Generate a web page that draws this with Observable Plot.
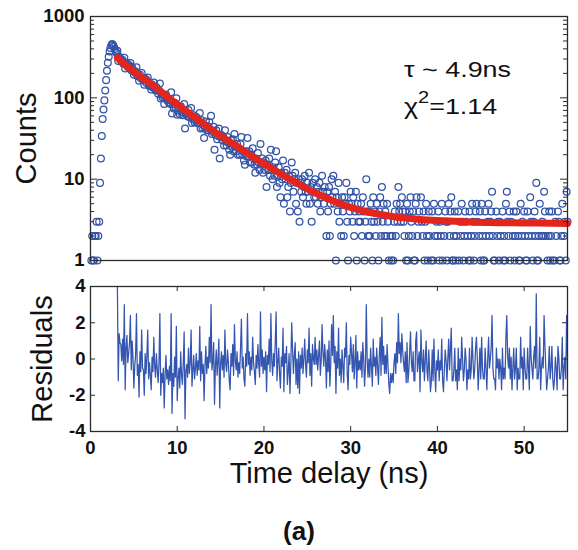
<!DOCTYPE html>
<html>
<head>
<meta charset="utf-8">
<script src="https://cdn.jsdelivr.net/npm/d3@7"></script>
<script src="https://cdn.jsdelivr.net/npm/@observablehq/plot@0.6"></script>
<style>
  body { margin: 0; background: #fff; }
  #wrap { position: relative; width: 578px; height: 550px; overflow: hidden; }
  #wrap svg { position: absolute; left: 0; overflow: visible; }
</style>
</head>
<body>
<div id="wrap"></div>
<script>
// ---- data ----
const channelWidth = 0.1; // ns per TCSPC channel, first channel at 0.1 ns
const counts = [
  1, 2, 1, 1, 2, 2, 3, 1, 2, 3,
  9, 18, 34, 55, 72, 93, 123, 165, 215, 270,
  320, 372, 410, 440, 458, 446, 425, 398, 372, 355,
  380, 283, 322, 307, 300, 278, 292, 263, 311, 229,
  260, 267, 240, 244, 249, 268, 218, 238, 220, 192,
  205, 210, 238, 186, 191, 162, 192, 174, 202, 169,
  165, 145, 171, 154, 164, 178, 142, 150, 139, 127,
  146, 134, 154, 132, 123, 135, 123, 112, 123, 150,
  98, 109, 102, 109, 84, 100, 110, 94, 98, 88,
  94, 84, 117, 64, 83, 74, 87, 76, 99, 62,
  70, 75, 63, 79, 67, 61, 70, 84, 42, 63,
  66, 59, 71, 58, 61, 75, 49, 55, 61, 50,
  53, 58, 49, 53, 49, 65, 42, 53, 43, 46,
  32, 43, 51, 40, 45, 40, 50, 41, 60, 36,
  38, 44, 23, 35, 40, 31, 34, 42, 18, 33,
  35, 30, 33, 26, 40, 29, 26, 33, 28, 23,
  20, 30, 25, 31, 22, 36, 25, 22, 27, 20,
  24, 20, 27, 33, 20, 22, 17, 15, 22, 19,
  32, 19, 22, 16, 20, 16, 24, 18, 15, 12,
  18, 15, 21, 16, 13, 27, 15, 18, 12, 16,
  13, 17, 8, 15, 13, 18, 11, 23, 13, 10,
  14, 11, 16, 22, 8, 11, 14, 9, 6, 12,
  10, 17, 5, 12, 10, 13, 6, 8, 11, 4,
  9, 16, 11, 7, 10, 12, 5, 9, 4, 10,
  3, 9, 7, 10, 6, 8, 11, 7, 5, 9,
  7, 12, 5, 8, 3, 9, 7, 6, 10, 6,
  8, 5, 7, 9, 4, 6, 11, 7, 5, 8,
  6, 2, 7, 4, 8, 2, 5, 10, 6, 11,
  5, 7, 1, 6, 4, 9, 3, 5, 2, 6,
  4, 2, 6, 5, 9, 3, 1, 5, 4, 7,
  5, 3, 6, 2, 4, 7, 1, 5, 3, 4,
  3, 5, 2, 6, 4, 1, 3, 10, 4, 2,
  4, 2, 5, 3, 1, 6, 3, 4, 2, 5,
  3, 1, 4, 6, 2, 8, 3, 5, 2, 4,
  2, 5, 3, 1, 0, 2, 1, 2, 1, 3,
  4, 2, 5, 3, 8, 4, 5, 3, 6, 4,
  3, 2, 4, 1, 5, 1, 2, 4, 6, 3,
  2, 4, 1, 1, 5, 6, 2, 3, 4, 0,
  6, 3, 2, 4, 1, 3, 5, 2, 1, 4,
  2, 0, 1, 4, 1, 5, 2, 0, 3, 2,
  4, 1, 3, 2, 5, 1, 0, 2, 4, 3,
  1, 3, 5, 2, 4, 6, 1, 1, 2, 4,
  1, 2, 0, 4, 1, 3, 2, 5, 3, 1,
  2, 4, 3, 0, 2, 1, 4, 1, 2, 5,
  3, 1, 2, 4, 5, 3, 0, 2, 4, 1,
  5, 2, 1, 1, 4, 2, 0, 3, 5, 2,
  3, 4, 7, 2, 1, 1, 0, 4, 2, 3,
  1, 3, 2, 0, 4, 1, 2, 1, 5, 7,
  3, 2, 4, 1, 3, 0, 2, 4, 1, 2,
  4, 0, 2, 1, 1, 5, 2, 3, 0, 4,
  2, 1, 1, 4, 2, 0, 6, 3, 2, 1,
  3, 4, 2, 9, 1, 1, 2, 5, 0, 2,
  3, 2, 7, 4, 2, 0, 1, 2, 4, 1,
  2, 4, 1, 0, 1, 3, 2, 0, 4, 3,
  1, 1, 2, 5, 0, 2, 3, 1, 7, 3
];

const residualFirstChannel = 31; // residuals start at 3.1 ns
const residuals = [
  4.0, -1.2, 1.4, 0.9, 0.8, -0.1, 1.1, -0.3, 3.0, -1.7,
  0.6, 1.3, -0.2, 0.3, 0.9, 2.4, -0.6, 1.0, 0.1, -1.6,
  -0.4, 0.2, 2.5, -0.9, -0.3, -2.1, 0.4, -0.7, 1.6, -0.5,
  -0.6, -2.0, 0.3, -0.8, 0.2, 1.6, -1.1, -0.2, -0.9, -1.7,
  0.1, -0.7, 1.2, -0.4, -1.0, 0.3, -0.6, -1.3, -0.2, 2.5,
  -2.0, -0.8, -1.3, -0.5, -2.7, -0.9, 0.2, -1.1, -0.6, -1.4,
  -0.4, -1.2, 2.5, -3.0, -0.8, -1.5, 0.1, -1.0, 1.8, -2.3,
  -1.1, -0.5, -1.6, 0.4, -0.9, -1.4, -0.2, 1.5, -3.3, -0.7,
  -0.3, -1.0, 0.6, -0.8, -0.2, 1.6, -1.5, -0.6, 0.2, -1.1,
  -0.5, 0.3, -0.9, -0.1, -0.6, 1.8, -1.2, 0.4, -0.8, -0.3,
  -2.3, -0.4, 0.7, -0.8, 0.1, -0.5, 1.2, -0.2, 3.0, -0.6,
  -0.2, 0.9, -2.5, -0.4, 0.5, -0.9, -0.1, 1.1, -2.7, -0.3,
  0.4, -0.6, 0.2, -1.0, 1.6, -0.3, -0.7, 0.5, -0.2, -1.2,
  -1.7, 0.3, -0.4, 0.8, -0.9, 1.9, -0.1, -0.6, 0.4, -1.0,
  -0.2, -0.8, 0.6, 2.2, -0.5, 0.1, -1.1, -1.5, 0.3, -0.4,
  2.5, -0.3, 0.4, -0.9, 0.1, -0.6, 1.2, -0.2, -0.7, -1.4,
  0.2, -0.5, 0.8, -0.3, -1.0, 2.6, -0.4, 0.5, -0.8, 0.1,
  -0.6, 0.4, -1.8, 0.2, -0.3, 1.1, -0.7, 2.5, -0.1, -0.9,
  0.3, -0.4, 0.9, 2.6, -1.2, -0.2, 0.6, -0.8, -1.6, 0.1,
  -0.4, 1.7, -1.8, 0.3, -0.2, 0.7, -1.4, -0.7, 0.3, -1.9,
  -0.3, 2.0, 0.5, -0.8, 0.2, 0.9, -1.4, 0.0, -1.6, 0.4,
  -1.9, 0.2, -0.5, 0.6, -0.8, 0.0, 1.1, -0.3, -1.0, 0.5,
  -0.2, 1.7, -0.9, 0.3, -1.5, 0.8, 0.0, -0.3, 1.2, -0.3,
  0.5, -0.6, 0.2, 1.0, -0.9, -0.1, 1.9, 0.4, -0.4, 0.8,
  0.0, -1.6, 0.5, -0.7, 1.0, -1.5, -0.3, 1.9, 0.2, 2.4,
  -0.2, 0.7, -1.9, 0.4, -0.5, 1.7, -0.9, 0.0, -1.3, 0.5,
  -0.4, -1.3, 0.6, 0.1, 2.0, -0.8, -1.7, 0.2, -0.3, 1.2,
  0.3, -0.7, 0.8, -1.1, -0.2, 1.3, -1.6, 0.4, -0.6, -0.1,
  -0.6, 0.4, -1.0, 0.9, 0.0, -1.5, -0.5, 3.0, 0.0, -1.0,
  0.0, -1.0, 0.6, -0.4, -1.5, 1.1, -0.4, 0.1, -0.9, 0.6,
  -0.4, -1.4, 0.2, 1.2, -0.9, 2.3, -0.3, 0.7, -0.8, 0.2,
  -0.8, 0.8, -0.3, -1.4, -1.9, -0.8, -1.3, -0.8, -1.3, -0.2,
  0.3, -0.8, 0.9, -0.2, 2.5, 0.3, 0.9, -0.2, 1.4, 0.4,
  -0.2, -0.7, 0.4, -1.3, 0.9, -1.3, -0.7, 0.4, 1.5, -0.2,
  -0.7, 0.4, -1.2, -1.2, 1.0, 1.5, -0.7, -0.1, 0.4, -1.8,
  1.6, -0.1, -0.7, 0.5, -1.2, -0.1, 1.0, -0.7, -1.2, 0.5,
  -0.6, -1.8, -1.2, 0.5, -1.2, 1.1, -0.6, -1.8, -0.1, -0.6,
  0.5, -1.2, -0.1, -0.6, 1.1, -1.2, -1.8, -0.6, 0.5, -0.1,
  -1.2, 0.0, 1.1, -0.6, 0.6, 1.7, -1.2, -1.2, -0.6, 0.6,
  -1.2, -0.6, -1.7, 0.6, -1.2, 0.0, -0.6, 1.2, 0.0, -1.2,
  -0.6, 0.6, 0.0, -1.7, -0.6, -1.1, 0.6, -1.1, -0.6, 1.2,
  0.0, -1.1, -0.6, 0.6, 1.2, 0.0, -1.7, -0.6, 0.6, -1.1,
  1.2, -0.5, -1.1, -1.1, 0.6, -0.5, -1.7, 0.0, 1.2, -0.5,
  0.0, 0.6, 2.4, -0.5, -1.1, -1.1, -1.7, 0.6, -0.5, 0.0,
  -1.1, 0.0, -0.5, -1.7, 0.6, -1.1, -0.5, -1.1, 1.2, 2.4,
  0.1, -0.5, 0.6, -1.1, 0.1, -1.7, -0.5, 0.6, -1.1, -0.5,
  0.6, -1.7, -0.5, -1.1, -1.1, 1.2, -0.5, 0.1, -1.7, 0.6,
  -0.5, -1.1, -1.1, 0.6, -0.5, -1.7, 1.8, 0.1, -0.5, -1.1,
  0.1, 0.7, -0.5, 3.6, -1.1, -1.1, -0.5, 1.2, -1.7, -0.5,
  0.1, -0.5, 2.4, 0.7, -0.5, -1.7, -1.1, -0.5, 0.7, -1.1,
  -0.5, 0.7, -1.1, -1.7, -1.1, 0.1, -0.5, -1.7, 0.7, 0.1,
  -1.1, -1.1, -0.5, 1.2, -1.7, -0.5, 0.1, -1.1, 2.4, 0.1
];

// fitted decay curve
const fitTime = [3.1, 4, 5, 6, 7, 8, 9, 10, 11, 12, 13, 14, 15, 16, 17, 18, 19, 20, 21, 22,
                 23, 24, 25, 26, 27, 28, 29, 30, 31, 32, 33, 34, 35, 36, 38, 40, 43, 46, 50, 55];
const fitCounts = [310, 255, 210, 175, 148, 122, 100, 83, 69, 58, 48, 40, 34, 29, 25, 21, 18, 15.5, 13.3, 11.5,
                   10, 8.7, 7.6, 6.7, 6.0, 5.4, 4.9, 4.5, 4.2, 3.95, 3.75, 3.6, 3.45, 3.35, 3.2, 3.1, 3.0, 2.93, 2.9, 2.85];

const countTicks = [1, 10, 100, 1000];
const countMinorTicks = [2, 3, 4, 5, 6, 7, 8, 9, 20, 30, 40, 50, 60, 70, 80, 90, 200, 300, 400, 500, 600, 700, 800, 900];
const timeTicks = [0, 10, 20, 30, 40, 50];
const residualTicks = [-4, -2, 0, 2, 4];
const residualInnerTicks = [-2, 0, 2];

// ---- tables for the library ----
const decay = counts.map((c, i) => ({t: (i + 1) * channelWidth, c})).filter(d => d.c > 0);
const resid = residuals.map((r, i) => ({t: (residualFirstChannel + i) * channelWidth, r}));
const fit = fitTime.map((t, i) => ({t, c: fitCounts[i]}));

// ---- styling ----
const FONT = "'Liberation Sans', Arial, Helvetica, sans-serif";
const W = 578, ML = 90, MR = 11;
const frameW = W - ML - MR;
const AX = "#2b2b2b";
const BLUE = "#3253a8";
const BLUE_LINE = "#3556b0";
const RED = "#e4251c";
const baseStyle = {fontFamily: FONT, fontSize: "18.5px", color: "#111", background: "transparent", overflow: "visible"};

const topH = 275, topMT = 16, topMB = 15;
const topPlot = Plot.plot({
  width: W, height: topH, marginLeft: ML, marginRight: MR, marginTop: topMT, marginBottom: topMB,
  style: baseStyle,
  x: {domain: [0, 55], axis: null},
  y: {type: "log", domain: [1, 1000]},
  marks: [
    Plot.dot(decay, {x: "t", y: "c", r: 3.4, stroke: BLUE, strokeWidth: 1.25, fill: "none"}),
    Plot.line(fit, {x: "t", y: "c", stroke: RED, strokeWidth: 7, curve: "monotone-x"}),
    Plot.tickY(countTicks, {y: d => d, insetRight: frameW - 7, stroke: AX}),
    Plot.tickY(countMinorTicks, {y: d => d, insetRight: frameW - 4, stroke: AX}),
    Plot.tickY(countTicks, {y: d => d, insetLeft: frameW - 7, stroke: AX}),
    Plot.tickY(countMinorTicks, {y: d => d, insetLeft: frameW - 4, stroke: AX}),
    Plot.frame({stroke: AX, strokeWidth: 1.3}),
    Plot.axisY(countTicks, {anchor: "left", tickSize: 0, tickPadding: 6, fontSize: 18.5, fontWeight: "bold",
                            tickFormat: d => String(d), label: null}),
    Plot.text(["Counts"], {frameAnchor: "left", text: d => d, dx: -63.5, rotate: -90, fontSize: 29,
                           textAnchor: "middle", lineAnchor: "middle"})
  ]
});

const botTop = 275, botMT = 11, botMB = 119, botH = 275;
const frameH = botH - botMT - botMB;
const botPlot = Plot.plot({
  width: W, height: botH, marginLeft: ML, marginRight: MR, marginTop: botMT, marginBottom: botMB,
  style: baseStyle,
  x: {domain: [0, 55]},
  y: {domain: [-4, 4]},
  marks: [
    Plot.line(resid, {x: "t", y: "r", stroke: BLUE_LINE, strokeWidth: 1.25}),
    Plot.tickX(timeTicks.slice(1), {x: d => d, insetBottom: frameH - 5, stroke: AX}),
    Plot.tickX(timeTicks.slice(1), {x: d => d, insetTop: frameH - 5, stroke: AX}),
    Plot.tickY(residualInnerTicks, {y: d => d, insetRight: frameW - 5, stroke: AX}),
    Plot.tickY(residualInnerTicks, {y: d => d, insetLeft: frameW - 5, stroke: AX}),
    Plot.frame({stroke: AX, strokeWidth: 1.3}),
    Plot.axisX(timeTicks, {anchor: "bottom", tickSize: 0, tickPadding: 9.5, fontSize: 18.5, fontWeight: "bold",
                           tickFormat: d => String(d), label: null}),
    Plot.axisY(residualTicks, {anchor: "left", tickSize: 0, tickPadding: 5, fontSize: 18.5, fontWeight: "bold",
                               tickFormat: d => String(d), label: null}),
    Plot.text(["Residuals"], {frameAnchor: "left", text: d => d, dx: -47.5, rotate: -90, fontSize: 29,
                              textAnchor: "middle", lineAnchor: "middle"}),
    Plot.text(["Time delay (ns)"], {frameAnchor: "bottom", text: d => d, dy: 42, fontSize: 29,
                                    textAnchor: "middle", lineAnchor: "middle"}),
    Plot.text(["(a)"], {frameAnchor: "bottom", text: d => d, dx: -30, dy: 100, fontSize: 26, fontWeight: "bold",
                        textAnchor: "middle", lineAnchor: "middle"})
  ]
});

const wrap = document.getElementById("wrap");
topPlot.style.top = "0px";
botPlot.style.top = botTop + "px";
wrap.appendChild(topPlot);
wrap.appendChild(botPlot);

// fit annotation
const ann = d3.select(topPlot).append("g")
  .attr("font-family", FONT).attr("font-size", 21.5).attr("fill", "#111").attr("text-anchor", "start");
ann.append("text").attr("transform", "translate(404,76.7) scale(1.25,1)").text("τ ~ 4.9ns");
const chi = ann.append("text").attr("transform", "translate(404,114) scale(1.25,1)");
chi.append("tspan").text("χ");
chi.append("tspan").attr("font-size", 16).attr("dy", -11).text("2");
chi.append("tspan").attr("dy", 11).text("=1.14");
</script>
</body>
</html>
